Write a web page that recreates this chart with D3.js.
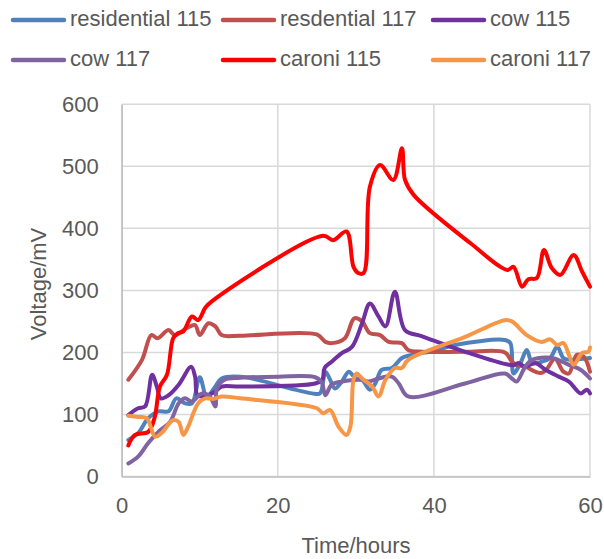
<!DOCTYPE html>
<html>
<head>
<meta charset="utf-8">
<script src="https://cdn.jsdelivr.net/npm/d3@7"></script>
<style>
  body { margin: 0; background: #fff; }
  text { font-family: "Liberation Sans", Arial, sans-serif; fill: #595959; }
</style>
</head>
<body>
<div class="chart"></div>
<script>
// data: [hours, mV]
const residential115 = [[0.85,59],[2.1,70],[3.4,94],[4.7,105],[6,105],[7,126],[8.1,118],[9,118],[10,160],[10.9,129],[12,145],[12.8,158],[15.2,161],[22.2,140],[24.4,134],[25.4,134],[26.1,169],[26.7,156],[27.3,142],[28.2,153],[29.1,169],[29.9,159],[30.8,156],[31.8,140],[32.5,150],[33.3,172],[34.6,175],[35.9,191],[37.2,196],[40.2,203],[42.7,212],[49.1,220],[49.8,215],[50.2,166],[51.1,183],[51.9,204],[52.6,183],[53.8,185],[54.9,191],[55.8,209],[56.6,191],[57.5,188],[58.5,189],[60,191]];
const resdential117 = [[0.85,156],[2.6,188],[3.8,228],[4.6,223],[6,236],[6.8,228],[8.3,239],[9.4,244],[10,228],[11.1,247],[12,242],[12.8,228],[15.2,227],[25,229],[26.1,217],[26.9,215],[28.6,223],[29.8,255],[30.8,250],[31.8,231],[33.1,228],[34.2,217],[35.9,215],[36.7,204],[38.5,201],[44,201],[49.1,200],[50,185],[50.6,180],[51.7,177],[53,169],[53.8,167],[54.5,174],[55.5,190],[56.6,169],[57.3,166],[58.3,196],[59.2,193],[60,169]];
const cow115 = [[0.85,99],[2.1,110],[3,113],[3.9,164],[4.5,145],[5,126],[6,131],[7.3,148],[8.9,177],[9.4,161],[9.7,131],[10.5,129],[12,137],[12.8,145],[15.2,145],[24.8,150],[25.7,156],[26,175],[26.9,185],[28.2,199],[29.5,209],[30.8,247],[31.8,279],[32.9,258],[33.8,242],[35,298],[36.3,236],[38.5,226],[44,201],[49.6,180],[50.4,180],[50.8,183],[51.7,177],[53,183],[54.3,172],[56,161],[57.3,153],[58.8,134],[59.6,140],[60,134]];
const cow117 = [[0.85,21],[2.1,32],[3.4,54],[4.7,72],[6.2,88],[7.3,118],[8.1,126],[9,121],[10.3,134],[11.3,129],[12,113],[12.2,142],[13.2,156],[15.2,159],[20.1,161],[24.8,160],[25.6,153],[26.1,131],[26.9,148],[28.2,153],[30.6,156],[31.6,153],[32.9,158],[34.6,161],[35.5,150],[36.7,129],[44,150],[49.1,166],[50,158],[50.6,153],[51.7,177],[52.6,188],[54.3,192],[55.5,190],[57.3,180],[58.8,172],[60,158]];
const caroni115 = [[0.85,50],[1.7,67],[3.4,72],[4.2,94],[4.9,145],[5.8,164],[6.6,223],[7.2,231],[7.9,234],[9,258],[9.8,252],[10.7,272],[11.5,282],[25.8,388],[27.1,381],[28.8,395],[29.7,338],[30.3,328],[31,328],[31.8,467],[33.1,502],[34.8,478],[35.9,529],[36.3,478],[37.4,454],[44.7,376],[49.4,333],[50.2,338],[51.3,306],[52.1,318],[53.2,320],[54.1,365],[55.1,336],[56.2,325],[57.9,357],[59,330],[60,306]];
const caroni117 = [[0.85,98],[2.1,96],[3.2,94],[4.3,64],[5.1,70],[6.6,91],[7.3,88],[7.9,67],[8.5,80],[9.8,118],[10.7,126],[11.7,125],[12.8,129],[15.2,126],[25,110],[25.8,102],[26.7,107],[27.8,80],[28.8,67],[29.3,80],[29.7,156],[30.1,166],[30.8,158],[32.1,145],[32.9,129],[33.8,156],[35,175],[35.9,175],[36.7,188],[44,225],[49.1,252],[50,250],[51.9,228],[53.8,217],[54.9,221],[55.8,212],[56.6,215],[57.3,196],[57.9,180],[59,199],[59.8,201],[60,208]];

const seriesNames = ['residential 115', 'resdential 117', 'cow 115', 'cow 117', 'caroni 115', 'caroni 117'];
const seriesValues = [residential115, resdential117, cow115, cow117, caroni115, caroni117];
const seriesColors = ['#4f81bd', '#c0504d', '#7030a0', '#8064a2', '#ff0000', '#f79646'];
const xTicks = [0, 20, 40, 60];
const yTicks = [0, 100, 200, 300, 400, 500, 600];

const svg = d3.select('.chart')
    .append('svg')
        .attr('width', 604)
        .attr('height', 559)

const x = d3.scaleLinear().domain([0, 60]).range([121.7, 590])
const y = d3.scaleLinear().domain([0, 600]).range([476.5, 104.3])

//gridlines
svg.append('g')
    .selectAll('line.vgrid')
    .data(xTicks)
    .enter()
    .append('line')
        .attr('x1', (d) => x(d))
        .attr('x2', (d) => x(d))
        .attr('y1', y(0))
        .attr('y2', y(600))
        .style('stroke', '#d9d9d9')
        .style('stroke-width', 1.5)

svg.append('g')
    .selectAll('line.hgrid')
    .data(yTicks)
    .enter()
    .append('line')
        .attr('x1', x(0))
        .attr('x2', x(60))
        .attr('y1', (d) => y(d))
        .attr('y2', (d) => y(d))
        .style('stroke', '#d9d9d9')
        .style('stroke-width', 1.5)

//axes
const xAxis = svg.append('g')
    .attr('transform', `translate(0, ${y(0)})`)
    .call(d3.axisBottom(x).tickValues(xTicks).tickSize(0).tickPadding(21))
xAxis.select('path').style('stroke', '#bfbfbf').style('stroke-width', 1.5)
xAxis.selectAll('text').style('font-size', '22px').style('fill', '#595959')
    .attr('font-family', null)

const yAxis = svg.append('g')
    .attr('transform', `translate(${x(0)}, 0)`)
    .call(d3.axisLeft(y).tickValues(yTicks).tickSize(0).tickPadding(23))
yAxis.select('path').style('stroke', '#bfbfbf').style('stroke-width', 1.5)
yAxis.selectAll('text').style('font-size', '22px').style('fill', '#595959')
    .attr('font-family', null)

//series
const line = d3.line()
    .x((d) => x(d[0]))
    .y((d) => y(d[1]))
    .curve(d3.curveCatmullRom.alpha(0.5))

svg.append('g')
    .selectAll('path')
    .data(seriesValues)
    .enter()
    .append('path')
        .attr('d', line)
        .style('fill', 'none')
        .style('stroke', (d, i) => seriesColors[i])
        .style('stroke-width', 4)
        .style('stroke-linejoin', 'round')
        .style('stroke-linecap', 'round')

//axis titles
svg.append('text')
    .attr('x', 356)
    .attr('y', 547)
    .attr('text-anchor', 'middle')
    .attr('dominant-baseline', 'middle')
    .style('font-size', '22px')
    .text('Time/hours')

svg.append('text')
    .attr('transform', 'translate(40, 284) rotate(-90)')
    .attr('text-anchor', 'middle')
    .attr('dominant-baseline', 'middle')
    .style('font-size', '22px')
    .text('Voltage/mV')

//legend
const legend = svg.append('g')
    .selectAll('g')
    .data(seriesNames)
    .enter()
    .append('g')
        .attr('transform', (d, i) => `translate(${12 + (i % 3) * 210}, ${20 + Math.floor(i / 3) * 40})`)

legend.append('line')
    .attr('x1', 1)
    .attr('x2', 52)
    .style('stroke', (d, i) => seriesColors[i])
    .style('stroke-width', 4.5)
    .style('stroke-linecap', 'round')

legend.append('text')
    .attr('x', 58)
    .attr('dominant-baseline', 'middle')
    .style('font-size', '22px')
    .text((d) => d)
</script>
</body>
</html>
